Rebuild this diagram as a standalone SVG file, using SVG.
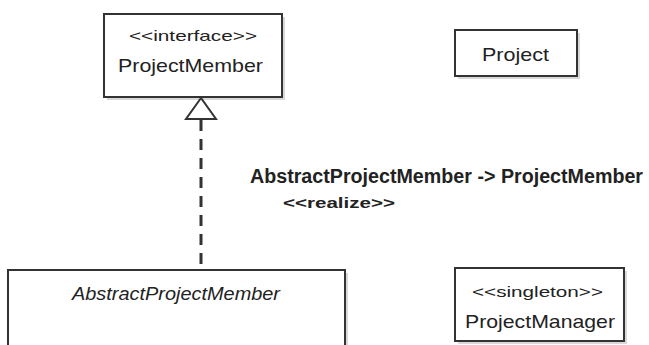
<svg xmlns="http://www.w3.org/2000/svg" width="649" height="345" viewBox="0 0 649 345">
<defs>
<style>
.box{fill:#ffffff;stroke:#333333;stroke-width:2}
.shadow{fill:#d8d8d8}
.t{font-family:"Liberation Sans",Arial,sans-serif;fill:#222222;text-anchor:middle}
.st{font-size:15px}
.nm{font-size:19px}
.it{font-style:italic}
.lbl{font-family:"Liberation Sans",Arial,sans-serif;fill:#222222;font-weight:bold}
.dash{stroke:#333333;stroke-width:3;stroke-dasharray:11,8;fill:none}
.head{fill:#ffffff;stroke:#333333;stroke-width:2}
</style>
</defs>
<rect width="649" height="345" fill="#ffffff"/>
<g id="ProjectMember">
<rect class="shadow" x="107" y="17" width="178" height="83"/>
<rect class="box" x="104" y="14" width="178" height="83"/>
<text class="t st" x="193" y="41" textLength="128" lengthAdjust="spacingAndGlyphs">&lt;&lt;interface&gt;&gt;</text>
<text class="t nm" x="190.5" y="72" textLength="145" lengthAdjust="spacingAndGlyphs">ProjectMember</text>
</g>
<g id="Project">
<rect class="shadow" x="458" y="33" width="122" height="46"/>
<rect class="box" x="455" y="30" width="122" height="46"/>
<text class="t nm" x="515.5" y="61" textLength="67" lengthAdjust="spacingAndGlyphs">Project</text>
</g>
<g id="AbstractProjectMember">
<rect class="shadow" x="11" y="273" width="337" height="90"/>
<rect class="box" x="8" y="270" width="337" height="90"/>
<text class="t nm it" x="176" y="300" textLength="208" lengthAdjust="spacingAndGlyphs">AbstractProjectMember</text>
</g>
<g id="ProjectManager">
<rect class="shadow" x="458" y="271" width="169" height="73"/>
<rect class="box" x="455" y="268" width="169" height="73"/>
<text class="t st" x="537.5" y="297" textLength="131" lengthAdjust="spacingAndGlyphs">&lt;&lt;singleton&gt;&gt;</text>
<text class="t nm" x="540" y="328" textLength="150" lengthAdjust="spacingAndGlyphs">ProjectManager</text>
</g>
<g id="connectors">
<line class="dash" x1="201" y1="120" x2="201" y2="269"/>
<polygon class="head" points="201,98 186,119 216,119"/>
<text class="lbl" x="250" y="183" font-size="20" textLength="393" lengthAdjust="spacingAndGlyphs">AbstractProjectMember -&gt; ProjectMember</text>
<text class="lbl" x="283" y="208" font-size="15" textLength="112" lengthAdjust="spacingAndGlyphs">&lt;&lt;realize&gt;&gt;</text>
</g>
</svg>
